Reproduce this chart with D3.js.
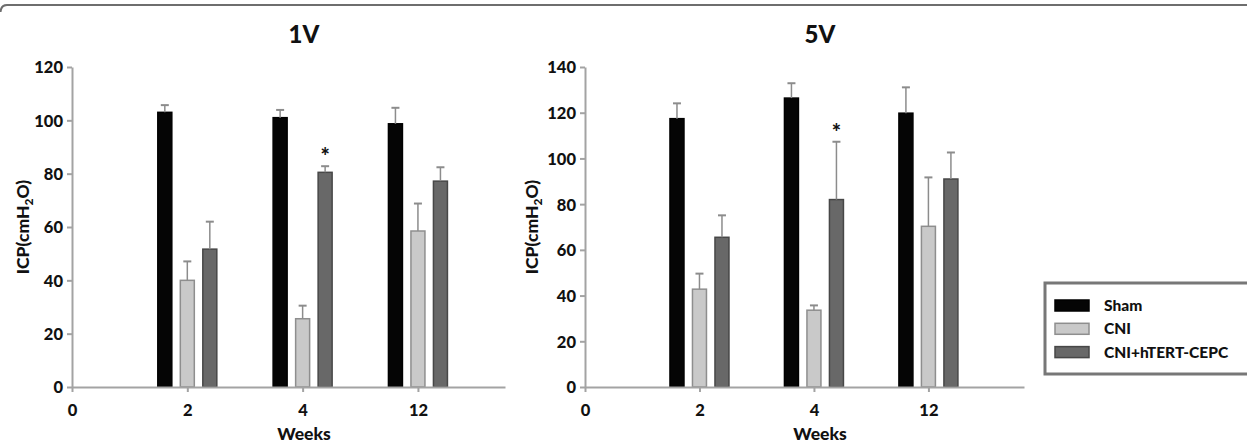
<!DOCTYPE html>
<html>
<head>
<meta charset="utf-8">
<title>ICP 1V / 5V</title>
<script src="https://d3js.org/d3.v7.min.js"></script>
<style>
  body { margin: 0; background: #fff; }
  svg text { font-family: Lato, "Open Sans", sans-serif; font-weight: 900; fill: #111; }
  .axis path, .axis line { stroke: #a3a3a3; stroke-width: 2; }
</style>
</head>
<body>
<svg id="chart" width="1247" height="444"></svg>
<script>
// categories + series
var weeks = ["0", "2", "4", "12"];
var seriesNames = ["Sham", "CNI", "CNI+hTERT-CEPC"];

// 1V panel: means and error (upper bar length), per week 2, 4, 12
var sham1V = [103, 101, 98.7];
var shamErr1V = [2.7, 2.9, 6];
var cni1V = [40, 25.6, 58.5];
var cniErr1V = [7.1, 4.9, 10.3];
var htert1V = [51.7, 80.5, 77.2];
var htertErr1V = [10.3, 2.3, 5.2];

// 5V panel
var sham5V = [117.4, 126.4, 119.8];
var shamErr5V = [6.7, 6.5, 11.3];
var cni5V = [42.8, 33.6, 70.3];
var cniErr5V = [6.8, 2.1, 21.4];
var htert5V = [65.5, 82, 91];
var htertErr5V = [9.6, 25.3, 11.6];

var yTicks1V = [0, 20, 40, 60, 80, 100, 120];
var yTicks5V = [0, 20, 40, 60, 80, 100, 120, 140];

// significance marks: week, series
var sig1V = [["4", "CNI+hTERT-CEPC"]];
var sig5V = [["4", "CNI+hTERT-CEPC"]];

var fills = { "Sham": "#050505", "CNI": "#c9c9c9", "CNI+hTERT-CEPC": "#686868" };
var strokes = { "Sham": "#000", "CNI": "#8e8e8e", "CNI+hTERT-CEPC": "#474747" };

var svg = d3.select("#chart");

// frame line on top with a rounded corner at the left
svg.append("path")
  .attr("d", "M0.5,12 Q1,5 7,5 L1247,5")
  .attr("fill", "none").attr("stroke", "#6e6e6e").attr("stroke-width", 2);

function buildRows(a, ae, b, be, c, ce) {
  var rows = [];
  var vals = [a, b, c], errs = [ae, be, ce];
  for (var s = 0; s < 3; s++) {
    for (var w = 0; w < 3; w++) {
      rows.push({ week: weeks[w + 1], series: seriesNames[s], value: vals[s][w], err: errs[s][w] });
    }
  }
  return rows;
}

function panel(opts) {
  var g = svg.append("g");
  var x = d3.scaleLinear().domain([0, opts.xEnd]).range([opts.left, opts.right]);
  var y = d3.scaleLinear().domain([0, opts.yMax]).range([387, 67]);
  var off = d3.scalePoint().domain(seriesNames).range([-22.5, 22.5]);
  var barW = 14;

  function cx(week) { return x(weeks.indexOf(week)); }

  // y axis
  var ya = g.append("g").attr("class", "axis")
    .attr("transform", "translate(" + opts.left + ",0)")
    .call(d3.axisLeft(y).tickValues(opts.yTicks).tickSize(5).tickPadding(4).tickSizeOuter(0));
  ya.selectAll("text").style("font-size", "16.5px").attr("dy", "0.36em");

  // bars
  g.selectAll("rect.bar").data(opts.rows).enter().append("rect")
    .attr("class", "bar")
    .attr("x", function (d) { return cx(d.week) + off(d.series) - barW / 2; })
    .attr("y", function (d) { return y(d.value); })
    .attr("width", barW)
    .attr("height", function (d) { return y(0) - y(d.value); })
    .attr("fill", function (d) { return fills[d.series]; })
    .attr("stroke", function (d) { return strokes[d.series]; })
    .attr("stroke-width", 1.5);

  // error bars (upper only)
  var eb = g.selectAll("g.err").data(opts.rows).enter().append("g").attr("class", "err");
  eb.append("line")
    .attr("x1", function (d) { return cx(d.week) + off(d.series); })
    .attr("x2", function (d) { return cx(d.week) + off(d.series); })
    .attr("y1", function (d) { return y(d.value); })
    .attr("y2", function (d) { return y(d.value + d.err); })
    .attr("stroke", "#8c8c8c").attr("stroke-width", 1.5);
  eb.append("line")
    .attr("x1", function (d) { return cx(d.week) + off(d.series) - 4; })
    .attr("x2", function (d) { return cx(d.week) + off(d.series) + 4; })
    .attr("y1", function (d) { return y(d.value + d.err); })
    .attr("y2", function (d) { return y(d.value + d.err); })
    .attr("stroke", "#8c8c8c").attr("stroke-width", 2);

  // x axis
  var xa = g.append("g").attr("class", "axis")
    .attr("transform", "translate(0," + y(0) + ")")
    .call(d3.axisBottom(x).tickValues([0, 1, 2, 3])
      .tickFormat(function (i) { return weeks[i]; })
      .tickSize(5).tickPadding(12).tickSizeOuter(0));
  xa.selectAll("text").style("font-size", "16.5px");

  // significance
  opts.sig.forEach(function (s) {
    var r = opts.rows.filter(function (d) { return d.week === s[0] && d.series === s[1]; })[0];
    g.append("text")
      .attr("x", cx(r.week) + off(r.series))
      .attr("y", y(r.value + r.err) - 2)
      .attr("text-anchor", "middle")
      .style("font-size", "22px")
      .text("*");
  });

  // titles
  g.append("text").attr("x", opts.titleX).attr("y", 43)
    .attr("text-anchor", "middle").style("font-size", "24px").text(opts.title);
  g.append("text").attr("x", opts.titleX).attr("y", 440)
    .attr("text-anchor", "middle").style("font-size", "17.5px").text("Weeks");
  var yl = g.append("text")
    .attr("transform", "translate(" + (opts.labelX) + ",227) rotate(-90)")
    .attr("text-anchor", "middle").style("font-size", "17.5px");
  yl.append("tspan").text("ICP(cmH");
  yl.append("tspan").attr("dy", 4).style("font-size", "12px").text("2");
  yl.append("tspan").attr("dy", -4).text("O)");
}

panel({
  rows: buildRows(sham1V, shamErr1V, cni1V, cniErr1V, htert1V, htertErr1V),
  left: 72, right: 505, xEnd: 3.755, yMax: 120, yTicks: yTicks1V,
  sig: sig1V, title: "1V", titleX: 304, labelX: 29
});

panel({
  rows: buildRows(sham5V, shamErr5V, cni5V, cniErr5V, htert5V, htertErr5V),
  left: 585, right: 1024, xEnd: 3.835, yMax: 140, yTicks: yTicks5V,
  sig: sig5V, title: "5V", titleX: 820, labelX: 538
});

// legend
var lg = svg.append("g");
lg.append("rect").attr("x", 1045).attr("y", 283).attr("width", 210).attr("height", 91)
  .attr("fill", "#fff").attr("stroke", "#777").attr("stroke-width", 3);
var li = lg.selectAll("g.item").data(seriesNames).enter().append("g")
  .attr("transform", function (d, i) { return "translate(1055," + (300 + i * 23.3) + ")"; });
li.append("rect").attr("width", 34).attr("height", 11)
  .attr("fill", function (d) { return fills[d]; })
  .attr("stroke", function (d) { return strokes[d]; }).attr("stroke-width", 1.5);
li.append("text").attr("x", 49).attr("y", 5.5).attr("dy", "0.36em")
  .style("font-size", "15.5px").text(function (d) { return d; });
</script>
</body>
</html>
